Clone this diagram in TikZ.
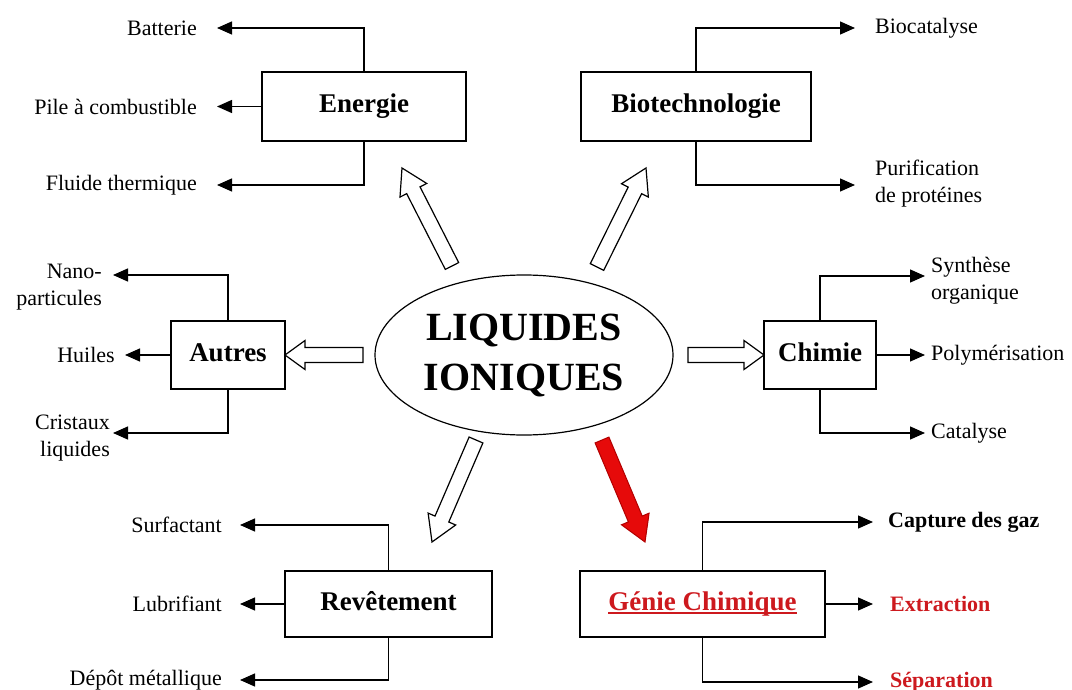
\documentclass[tikz,border=0pt]{standalone}
\usepackage{fontspec}
\setmainfont{Liberation Serif}
\usetikzlibrary{arrows.meta,shapes.geometric,calc}
\definecolor{genred}{RGB}{205,25,30}
\definecolor{arrred}{RGB}{230,10,10}
\tikzset{
 box/.style={draw, line width=1.3pt, inner sep=0pt, font=\fontsize{27}{32}\selectfont\bfseries, text height=18pt, text depth=6pt},
 lbl/.style={inner sep=0pt, font=\fontsize{22}{27}\selectfont},
 br/.style={line width=1.3pt, -{Triangle[length=15pt,width=13pt]}},
 hollow/.style={draw, line width=1.2pt, fill=white, line join=miter},
 redarr/.style={draw=red!70!black, fill=arrred, line width=1pt, line join=miter},
}
\newcommand\ulbase[1]{\setbox0\hbox{#1}\rlap{\rule[-3.5pt]{\wd0}{1.6pt}}\box0}
% #1 style, #2 tail, #3 tip, #4 head length, #5 head half width, #6 shaft half width
\newcommand\fatarr[6]{%
 \coordinate (fah) at ($(#3)!#4!(#2)$);
 \draw[#1] ($(#2)!#6!90:(#3)$) -- ($(fah)!#6!90:(#3)$) -- ($(fah)!#5!90:(#3)$) -- (#3)
   -- ($(fah)!#5!-90:(#3)$) -- ($(fah)!#6!-90:(#3)$) -- ($(#2)!#6!-90:(#3)$) -- cycle;
}
\begin{document}
\begin{tikzpicture}[x=1pt,y=-1pt]
\useasboundingbox (0,0) rectangle (1072,690);

% central ellipse
\node[draw, ellipse, line width=1.2pt, minimum width=298pt, minimum height=160pt, inner sep=0pt,
      align=center, font=\fontsize{40}{50}\selectfont\bfseries] (li) at (524,355) {LIQUIDES\\IONIQUES};

% boxes
\node[box, minimum width=204pt, minimum height=69pt] (energie) at (364,106.5) {Energie};
\node[box, minimum width=230pt, minimum height=69pt] (bio) at (696,106.5) {Biotechnologie};
\node[box, minimum width=114pt, minimum height=68pt] (autres) at (228,355) {Autres};
\node[box, minimum width=112pt, minimum height=68pt] (chimie) at (820,355) {Chimie};
\node[box, minimum width=207pt, minimum height=66pt] (rev) at (388.5,604) {Revêtement};
\node[box, minimum width=245pt, minimum height=66pt, text=genred] (genie) at (702.5,604) {\ulbase{Génie Chimique}};

% fat arrows from the ellipse
\coordinate (eT) at (452,266); \coordinate (eH) at (402,168);
\coordinate (bT) at (597,267); \coordinate (bH) at (646,168);
\coordinate (aT) at (363,355); \coordinate (aH) at (285,355);
\coordinate (cT) at (688,355); \coordinate (cH) at (764,355);
\coordinate (rT) at (476,440); \coordinate (rH) at (432,542);
\coordinate (gT) at (602,440); \coordinate (gH) at (645,542);
\fatarr{hollow}{eT}{eH}{25pt}{15pt}{7.5pt}
\fatarr{hollow}{bT}{bH}{25pt}{15pt}{7.5pt}
\fatarr{hollow}{aT}{aH}{20pt}{14.5pt}{7.5pt}
\fatarr{hollow}{cT}{cH}{20pt}{14.5pt}{7.5pt}
\fatarr{hollow}{rT}{rH}{25pt}{15pt}{7.5pt}
\fatarr{redarr}{gT}{gH}{25pt}{15pt}{7.5pt}

% Energie
\coordinate (e1) at (217,28); \coordinate (e2) at (217,106.5); \coordinate (e3) at (217,185);
\draw[br] (energie.north) |- (e1);
\draw[br] (energie.west) -- (e2);
\draw[br] (energie.south) |- (e3);
\node[lbl, anchor=east] (batt) at (197,28) {Batterie};
\node[lbl, anchor=east] (pile) at (197,106.5) {Pile à combustible};
\node[lbl, anchor=east] (fluide) at (197,185) {Fluide thermique};

% Biotechnologie
\coordinate (b1) at (855,28); \coordinate (b2) at (855,185);
\draw[br] (bio.north) |- (b1);
\draw[br] (bio.south) |- (b2);
\node[lbl, anchor=west] (biocat) at (875,28) {Biocatalyse};
\node[lbl, anchor=west, align=left] (purif) at (875,183.5) {Purification\\de protéines};

% Autres
\coordinate (a1) at (113,275); \coordinate (a2) at (125,355); \coordinate (a3) at (113,433);
\draw[br] (autres.north) |- (a1);
\draw[br] (autres.west) -- (a2);
\draw[br] (autres.south) |- (a3);
\node[lbl, anchor=east, align=right] (nano) at (102,287) {Nano-\\particules};
\node[lbl, anchor=east] (huiles) at (115,355) {Huiles};
\node[lbl, anchor=east, align=right] (crist) at (110,438) {Cristaux\\liquides};

% Chimie
\coordinate (c1) at (925,276); \coordinate (c2) at (925,355); \coordinate (c3) at (925,433);
\draw[br] (chimie.north) |- (c1);
\draw[br] (chimie.east) -- (c2);
\draw[br] (chimie.south) |- (c3);
\node[lbl, anchor=west, align=left] (synth) at (931,281) {Synthèse\\organique};
\node[lbl, anchor=west] (poly) at (931,355) {Polymérisation};
\node[lbl, anchor=west] (catal) at (931,433) {Catalyse};

% Revetement
\coordinate (r1) at (240,525); \coordinate (r2) at (240,604); \coordinate (r3) at (240,680);
\draw[br] (rev.north) |- (r1);
\draw[br] (rev.west) -- (r2);
\draw[br] (rev.south) |- (r3);
\node[lbl, anchor=east] (surf) at (222,525) {Surfactant};
\node[lbl, anchor=east] (lubr) at (222,604) {Lubrifiant};
\node[lbl, anchor=east] (depot) at (222,680) {Dépôt métallique};

% Genie chimique
\coordinate (g1) at (873,522); \coordinate (g2) at (873,604); \coordinate (g3) at (873,682);
\draw[br] (genie.north) |- (g1);
\draw[br] (genie.east) -- (g2);
\draw[br] (genie.south) |- (g3);
\node[lbl, anchor=west, font=\fontsize{22}{27}\selectfont\bfseries] (capt) at (888,522) {Capture des gaz};
\node[lbl, anchor=west, font=\fontsize{22}{27}\selectfont\bfseries, text=genred] (extr) at (890,604) {Extraction};
\node[lbl, anchor=west, font=\fontsize{22}{27}\selectfont\bfseries, text=genred] (sep) at (890,682) {Séparation};
\end{tikzpicture}
\end{document}
